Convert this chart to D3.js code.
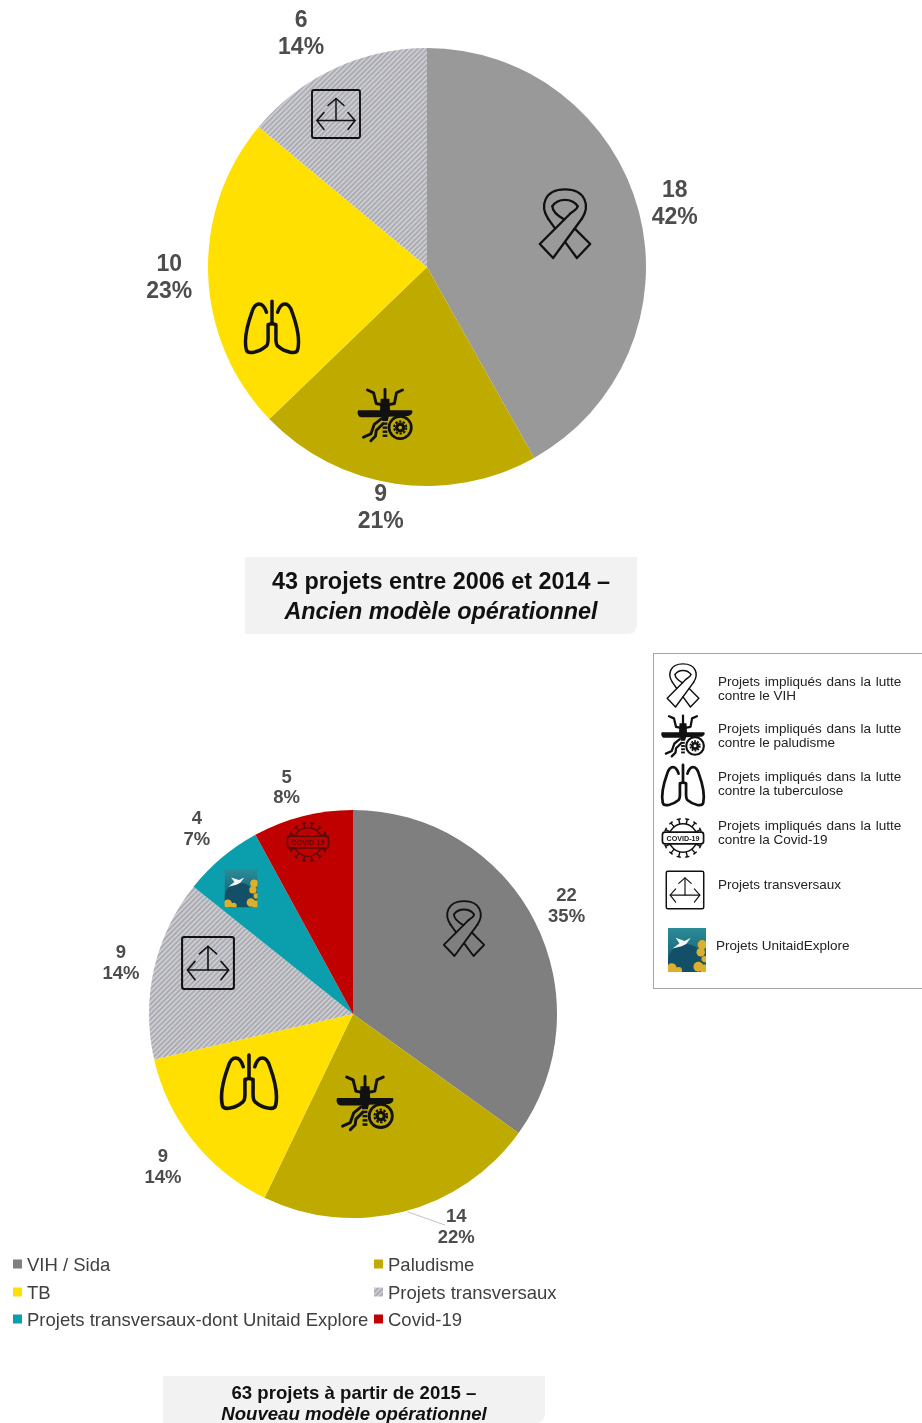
<!DOCTYPE html>
<html>
<head>
<meta charset="utf-8">
<script src="https://cdn.jsdelivr.net/npm/d3@7"></script>
<style>
  html, body { margin: 0; padding: 0; background: #fff; }
  svg { display: block; font-family: "Liberation Sans", Arial, sans-serif; filter: blur(0.35px); }
</style>
</head>
<body>
<svg id="chart" width="922" height="1423"></svg>
<script>
// data
var oldCategories = ['VIH / Sida', 'Paludisme', 'TB', 'Projets transversaux'];
var oldValues = [18, 9, 10, 6];
var oldPercents = ['42%', '21%', '23%', '14%'];

var newCategories = ['VIH / Sida', 'Paludisme', 'TB', 'Projets transversaux', 'Projets transversaux-dont Unitaid Explore', 'Covid-19'];
var newValues = [22, 14, 9, 9, 4, 5];
var newPercents = ['35%', '22%', '14%', '14%', '7%', '8%'];

var legendRows = [
  ['VIH / Sida', 'Paludisme'],
  ['TB', 'Projets transversaux'],
  ['Projets transversaux-dont Unitaid Explore', 'Covid-19']
];

var keyIcons = ['ribbon', 'mosquito', 'lungs', 'covid', 'arrows', 'explore'];
var keyTexts = [
  ['Projets impliqués dans la lutte', 'contre le VIH'],
  ['Projets impliqués dans la lutte', 'contre le paludisme'],
  ['Projets impliqués dans la lutte', 'contre la tuberculose'],
  ['Projets impliqués dans la lutte', 'contre la Covid-19'],
  ['Projets transversaux'],
  ['Projets UnitaidExplore']
];

var oldTitle = ['43 projets entre 2006 et 2014 –', 'Ancien modèle opérationnel'];
var newTitle = ['63 projets à partir de 2015 –', 'Nouveau modèle opérationnel'];

var colors = {
  'VIH / Sida': '#7f7f7f',
  'Paludisme': '#bfab00',
  'TB': '#ffe000',
  'Projets transversaux': 'url(#hatch)',
  'Projets transversaux-dont Unitaid Explore': '#0b9fad',
  'Covid-19': '#c00000'
};

var svg = d3.select('#chart');
var defs = svg.append('defs');

var hatch = defs.append('pattern')
  .attr('id', 'hatch')
  .attr('patternUnits', 'userSpaceOnUse')
  .attr('width', 3.6)
  .attr('height', 3.6)
  .attr('patternTransform', 'rotate(-45)');
hatch.append('rect').attr('width', 3.6).attr('height', 3.6).attr('fill', '#d2d2d6');
hatch.append('rect').attr('width', 3.6).attr('height', 2.1).attr('fill', '#abacb3');

var exploreGrad = defs.append('linearGradient')
  .attr('id', 'exploreGrad')
  .attr('x1', 0).attr('y1', 0).attr('x2', 0).attr('y2', 1);
exploreGrad.append('stop').attr('offset', 0).attr('stop-color', '#2b8c98');
exploreGrad.append('stop').attr('offset', 1).attr('stop-color', '#11546a');

defs.append('clipPath').attr('id', 'exploreClip')
  .append('rect').attr('x', -50).attr('y', -58).attr('width', 100).attr('height', 116);

function strokePaths(g, list, width, color) {
  list.forEach(function(p) {
    g.append('path').attr('d', p).attr('fill', 'none').attr('stroke', color || '#111')
      .attr('stroke-width', width).attr('stroke-linejoin', 'round').attr('stroke-linecap', 'round');
  });
}

// icons, drawn in their own little box and scaled to a size when placed
var iconShapes = {
  ribbon: {
    box: 100,
    draw: function(g) {
      strokePaths(g, [
        'M-24,-6 C-36,-24 -30,-48 0,-48 C30,-48 36,-24 24,-6',
        'M24,-6 L-17,50 L-36,30 L8,-14',
        'M-24,-6 L-14,8',
        'M0,27 L17,50 L36,30 L14,8',
        'M-18,-24 C-10,-36 10,-36 18,-24',
        'M-18,-24 C-18,-16 -10,-10 -1,-5',
        'M18,-24 C18,-20 13,-18 8,-14'
      ], 3.3);
    }
  },
  mosquito: {
    box: 157,
    draw: function(g, color, bg) {
      var c = '#111';
      // wings and body
      g.append('path').attr('d', 'M-78,-14 L-10,-14 L-6,7 L-70,7 C-82,7 -84,-14 -78,-14 Z').attr('fill', c);
      g.append('path').attr('d', 'M78,-14 L10,-14 L8,5 L68,3 C82,1 84,-14 78,-14 Z').attr('fill', c);
      g.append('path').attr('d', 'M-13,-48 L13,-48 L15,-10 L8,18 L-8,18 L-15,-10 Z').attr('fill', c);
      [22, 34, 46, 58].forEach(function(y) {
        g.append('rect').attr('x', -7).attr('y', y).attr('width', 14).attr('height', 7).attr('fill', c);
      });
      strokePaths(g, [
        'M0,-44 L0,-76',
        'M-52,-74 L-34,-66 L-26,-34 L-8,-30',
        'M52,-74 L34,-66 L28,-34 L8,-30',
        'M-12,12 L-32,28 L-42,56 L-64,66',
        'M-6,26 L-26,46 L-28,62 L-42,76'
      ], 8.5);
      // gear in a ring
      g.append('circle').attr('cx', 45).attr('cy', 37).attr('r', 33).attr('fill', bg || '#bfab00').attr('stroke', c).attr('stroke-width', 8);
      g.append('circle').attr('cx', 45).attr('cy', 37).attr('r', 15).attr('fill', c);
      g.append('circle').attr('cx', 45).attr('cy', 37).attr('r', 18).attr('fill', 'none').attr('stroke', c).attr('stroke-width', 6).attr('stroke-dasharray', '7 4.3');
      g.append('circle').attr('cx', 45).attr('cy', 37).attr('r', 5.5).attr('fill', bg || '#bfab00');
    }
  },
  lungs: {
    box: 100,
    draw: function(g) {
      strokePaths(g, [
        'M0,-48 L0,-8',
        'M-10,-28 C-16,-48 -30,-48 -36,-28 C-44,-6 -50,20 -46,38 C-44,48 -24,44 -10,32 C-6,28 -7,20 -7,12 L-7,-6 L0,-8',
        'M10,-28 C16,-48 30,-48 36,-28 C44,-6 50,20 46,38 C44,48 24,44 10,32 C6,28 7,20 7,12 L7,-6 L0,-8'
      ], 6.2);
    }
  },
  covid: {
    box: 100,
    draw: function(g, color) {
      d3.range(14).forEach(function(i) {
        var a = (i + 0.5) * 2 * Math.PI / 14;
        if (Math.abs(Math.sin(a)) > 0.92) return;
        var x = Math.sin(a), y = -Math.cos(a);
        g.append('line').attr('x1', x * 34).attr('y1', y * 34).attr('x2', x * 46).attr('y2', y * 46)
          .attr('stroke', color).attr('stroke-width', 3.5);
        g.append('line').attr('x1', x * 46 - y * 5).attr('y1', y * 46 + x * 5)
          .attr('x2', x * 46 + y * 5).attr('y2', y * 46 - x * 5)
          .attr('stroke', color).attr('stroke-width', 3.5);
      });
      g.append('circle').attr('r', 34).attr('fill', 'none').attr('stroke', color).attr('stroke-width', 3.5);
      g.append('rect').attr('x', -49).attr('y', -14).attr('width', 98).attr('height', 28).attr('rx', 6)
        .attr('fill', color === '#111' ? '#fff' : '#c00000').attr('stroke', color).attr('stroke-width', 4);
      g.append('text').attr('y', 6).attr('text-anchor', 'middle').attr('font-size', 17)
        .attr('font-weight', 'bold').attr('fill', color).text('COVID-19');
    }
  },
  arrows: {
    box: 100,
    draw: function(g) {
      g.append('rect').attr('x', -48).attr('y', -48).attr('width', 96).attr('height', 96).attr('rx', 4)
        .attr('fill', 'none').attr('stroke', '#111').attr('stroke-width', 3.8);
      strokePaths(g, ['M-16,-17 L0,-31 L16,-17', 'M0,-31 L0,13', 'M-38,13 L38,13', 'M-24,-3 L-38,13 L-24,31', 'M24,-3 L38,13 L24,31'], 3);
    }
  },
  explore: {
    box: 100,
    draw: function(g) {
      var inner = g.append('g').attr('clip-path', 'url(#exploreClip)');
      inner.append('rect').attr('x', -50).attr('y', -58).attr('width', 100).attr('height', 116).attr('fill', 'url(#exploreGrad)');
      inner.append('circle').attr('cx', -4).attr('cy', 30).attr('r', 46).attr('fill', '#134f66');
      inner.append('path').attr('d', 'M-30,-32 L-6,-24 L10,-32 L-2,-16 L-14,-10 L-38,-4 L-20,-18 Z').attr('fill', '#f2f6f4');
      [[40, -14, 12], [36, 6, 11], [46, 24, 8], [-40, 48, 13], [-22, 54, 9], [30, 44, 13], [46, 50, 12]].forEach(function(f) {
        inner.append('circle').attr('cx', f[0]).attr('cy', f[1]).attr('r', f[2]).attr('fill', '#dcb02c');
      });
    }
  }
};

function drawIcon(name, cx, cy, size, color, bg) {
  var shape = iconShapes[name];
  var g = svg.append('g')
    .attr('transform', 'translate(' + cx + ',' + cy + ') scale(' + size / shape.box + ')');
  shape.draw(g, color || '#111', bg);
}

// one pie with its outside labels
function drawPie(opts) {
  var pie = d3.pie().sort(null).value(function(d) { return d; });
  var slices = pie(opts.values);
  var arc = d3.arc().innerRadius(0).outerRadius(opts.radius);
  var g = svg.append('g').attr('transform', 'translate(' + opts.cx + ',' + opts.cy + ')');

  g.selectAll('path.slice').data(slices).enter().append('path')
    .attr('class', 'slice')
    .attr('d', arc)
    .attr('fill', function(d, i) {
      if (opts.categories[i] === 'VIH / Sida') return opts.hivColor;
      return colors[opts.categories[i]];
    });

  var labels = g.selectAll('g.label').data(slices).enter().append('g')
    .attr('class', 'label')
    .attr('transform', function(d, i) {
      var off = opts.labelOffsets[i];
      var a = (d.startAngle + d.endAngle) / 2;
      var x = Math.sin(a) * off[0] + off[1];
      var y = -Math.cos(a) * off[0] + off[2];
      return 'translate(' + x + ',' + y + ')';
    });

  labels.append('text')
    .attr('text-anchor', 'middle')
    .attr('y', -opts.lineGap / 2 + opts.fontSize * 0.36)
    .attr('font-size', opts.fontSize)
    .attr('font-weight', 'bold')
    .attr('fill', '#4d4d4d')
    .text(function(d) { return d.value; });

  labels.append('text')
    .attr('text-anchor', 'middle')
    .attr('y', opts.lineGap / 2 + opts.fontSize * 0.36)
    .attr('font-size', opts.fontSize)
    .attr('font-weight', 'bold')
    .attr('fill', '#4d4d4d')
    .text(function(d, i) { return opts.percents[i]; });

  return { slices: slices, group: g };
}

var oldPie = drawPie({
  cx: 427, cy: 267, radius: 219,
  values: oldValues, categories: oldCategories, percents: oldPercents,
  hivColor: '#999999',
  fontSize: 23, lineGap: 27,
  labelOffsets: [[256, 0, 0], [242, -11, 0], [258, 0, 0], [266, -13, 6]]
});

var newPie = drawPie({
  cx: 353, cy: 1014, radius: 204,
  values: newValues, categories: newCategories, percents: newPercents,
  hivColor: '#7f7f7f',
  fontSize: 18.5, lineGap: 21,
  labelOffsets: [[240, 0, 0], [236, 45, -17], [243, 0, 0], [238, 0, 1], [243, 0, 0], [237, -8, 2]]
});

// leader line of the 14 / 22% label
var malaria = newPie.slices[1];
var malariaMid = (malaria.startAngle + malaria.endAngle) / 2;
newPie.group.append('line')
  .attr('x1', Math.sin(malariaMid) * 204 + 4)
  .attr('y1', -Math.cos(malariaMid) * 204)
  .attr('x2', 92)
  .attr('y2', 211)
  .attr('stroke', '#c8c8c8')
  .attr('stroke-width', 1.2);

// icons on the pies
drawIcon('ribbon', 565, 223, 70);
drawIcon('mosquito', 385, 415, 53);
drawIcon('lungs', 272, 328, 56);
drawIcon('arrows', 336, 114, 50);

drawIcon('ribbon', 464, 928, 56);
drawIcon('mosquito', 365, 1103, 55);
drawIcon('lungs', 249, 1083, 58);
drawIcon('arrows', 208, 963, 54);
drawIcon('explore', 241, 888, 33);
drawIcon('covid', 308, 842, 42, '#5a0a0a');

// title boxes
function drawTitle(x, y, w, h, cx, lines, fontSize, y1, y2) {
  svg.append('path')
    .attr('d', 'M' + x + ',' + y + ' H' + (x + w) + ' V' + (y + h - 10) + ' Q' + (x + w) + ',' + (y + h) + ' ' + (x + w - 10) + ',' + (y + h) + ' H' + x + ' Z')
    .attr('fill', '#f2f2f2');
  svg.append('text').attr('x', cx).attr('y', y1).attr('text-anchor', 'middle')
    .attr('font-size', fontSize).attr('font-weight', 'bold').attr('fill', '#111').text(lines[0]);
  svg.append('text').attr('x', cx).attr('y', y2).attr('text-anchor', 'middle')
    .attr('font-size', fontSize).attr('font-weight', 'bold').attr('font-style', 'italic').attr('fill', '#111').text(lines[1]);
}
drawTitle(245, 557, 392, 77, 441, oldTitle, 23.4, 589, 619);
drawTitle(163, 1376, 382, 47, 354, newTitle, 18.6, 1399, 1420);

// bottom legend
var legendX = [13, 374];
var legendY = [1264, 1292, 1319];
legendRows.forEach(function(row, r) {
  row.forEach(function(name, c) {
    svg.append('rect')
      .attr('x', legendX[c]).attr('y', legendY[r] - 4.5)
      .attr('width', 9).attr('height', 9)
      .attr('fill', colors[name]);
    svg.append('text')
      .attr('x', legendX[c] + 14).attr('y', legendY[r] + 6.5)
      .attr('font-size', 18.5).attr('fill', '#404040')
      .text(name);
  });
});

// icon key on the right
svg.append('rect')
  .attr('x', 653.5).attr('y', 653.5).attr('width', 270).attr('height', 335)
  .attr('fill', '#fff').attr('stroke', '#a6a6a6').attr('stroke-width', 1);

var keyCenters = [[683, 685, 44], [683, 736, 42], [683, 786, 44], [683, 838, 42], [685, 890, 39], [687, 950, 38]];
var keyBaselines = [686, 733, 781, 830, 889, 950];
keyIcons.forEach(function(name, i) {
  drawIcon(name, keyCenters[i][0], keyCenters[i][1], keyCenters[i][2], null, '#fff');
  keyTexts[i].forEach(function(line, j) {
    svg.append('text')
      .attr('x', i === 5 ? 716 : 718)
      .attr('y', keyBaselines[i] + j * 13.5)
      .attr('font-size', 13.5)
      .attr('word-spacing', j === 0 && keyTexts[i].length > 1 ? 1 : 0)
      .attr('fill', '#222')
      .text(line);
  });
});
</script>
</body>
</html>
